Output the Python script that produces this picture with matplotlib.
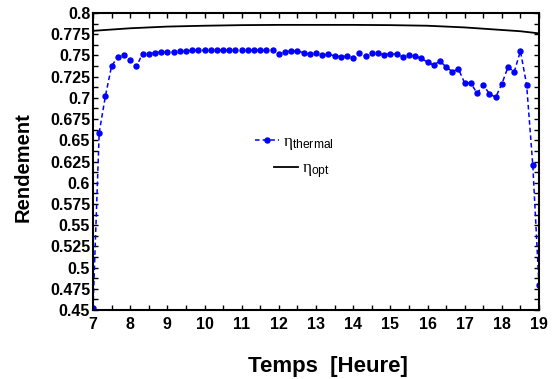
# ============================================
# Rendement thermique / optique sur une journee
# ============================================

import numpy as np
import matplotlib
matplotlib.use("Agg")
import matplotlib.pyplot as plt
from matplotlib.ticker import MultipleLocator, FuncFormatter

# --------------------------------------------
# Data
# --------------------------------------------
# one sample every 10 minutes from 7h to 19h
temps = np.arange(7 * 60, 19 * 60 + 1, 10) / 60.0

eta_thermal = [
    0.452, 0.659, 0.702, 0.7375, 0.748, 0.750,      # 7h
    0.745, 0.737, 0.752, 0.752, 0.753, 0.754,       # 8h
    0.754, 0.754, 0.755, 0.755, 0.756, 0.756,       # 9h
    0.756, 0.756, 0.756, 0.756, 0.756, 0.756,       # 10h
    0.7565, 0.756, 0.756, 0.756, 0.756, 0.7565,     # 11h
    0.7517, 0.7544, 0.755, 0.755, 0.7533, 0.7513,   # 12h
    0.7533, 0.7501, 0.7517, 0.7493, 0.7486, 0.749,  # 13h
    0.7466, 0.753, 0.749, 0.7525, 0.7525, 0.751,    # 14h
    0.752, 0.7515, 0.7485, 0.750, 0.749, 0.7466,    # 15h
    0.742, 0.7387, 0.7434, 0.7364, 0.7309, 0.734,   # 16h
    0.7175, 0.7175, 0.7054, 0.7148, 0.705, 0.7006,  # 17h
    0.7163, 0.7364, 0.7305, 0.7552, 0.7155, 0.6205, # 18h
    0.4795,                                         # 19h
]

temps_opt = [7, 7.5, 8, 8.5, 9, 10, 11, 12, 13, 14, 15, 16, 16.5, 17, 17.5, 18, 18.5, 19]
eta_opt = [0.779, 0.7805, 0.782, 0.783, 0.784, 0.785, 0.7857, 0.786, 0.786,
           0.786, 0.7857, 0.785, 0.784, 0.783, 0.7815, 0.780, 0.7785, 0.776]

x_ticks = [7, 8, 9, 10, 11, 12, 13, 14, 15, 16, 17, 18, 19]

# --------------------------------------------
# Style
# --------------------------------------------
plt.rcParams['font.family'] = ['Liberation Sans', 'DejaVu Sans']
plt.rcParams['mathtext.fontset'] = 'custom'
plt.rcParams['mathtext.rm'] = 'Liberation Sans'
plt.rcParams['mathtext.it'] = 'Liberation Serif'


def plot_rendement():
    fig = plt.figure(figsize=(5.58, 3.79), dpi=100)
    ax = fig.add_axes([93 / 558, 1 - 310 / 379, 446 / 558, 297 / 379])

    l1, = ax.plot(temps, eta_thermal, '--', color='#0000ff', lw=1.1,
                  marker='o', markersize=3.6, dashes=(3, 2))
    l2, = ax.plot(temps_opt, eta_opt, '-', color='black', lw=1.3)

    ax.set_xlim(7, 19)
    ax.set_ylim(0.45, 0.8)
    ax.set_xticks(x_ticks)
    ax.xaxis.set_minor_locator(MultipleLocator(0.5))
    ax.yaxis.set_major_locator(MultipleLocator(0.025))
    ax.yaxis.set_minor_locator(MultipleLocator(0.0125))
    ax.yaxis.set_major_formatter(FuncFormatter(lambda v, p: '{:g}'.format(round(v, 4))))

    ax.tick_params(which='both', direction='in', top=True, right=True,
                   length=3.5, width=1)
    ax.tick_params(axis='x', which='major', pad=5, labelsize=11.5)
    ax.tick_params(axis='y', which='major', pad=2, labelsize=11.5)
    for lab in ax.get_xticklabels() + ax.get_yticklabels():
        lab.set_fontweight('bold')

    for sp in ax.spines.values():
        sp.set_linewidth(1.5)

    ax.set_xlabel('Temps  [Heure]', fontsize=16, fontweight='bold', va='top')
    ax.xaxis.set_label_coords(0.527, -0.155)
    ax.set_ylabel('Rendement', fontsize=14.5, fontweight='bold', va='center')
    ax.yaxis.set_label_coords(-0.156, 0.48)

    # two separate legend entries, like the original
    leg1 = ax.legend([l1], [r'$\eta_{\mathrm{thermal}}$'], loc='center left',
                     bbox_to_anchor=(0.363, 0.563), frameon=False, fontsize=12.5,
                     handlelength=1.4, handletextpad=0.2, borderpad=0,
                     borderaxespad=0, numpoints=1)
    ax.add_artist(leg1)
    ax.legend([l2], [r'$\eta_{\mathrm{opt}}$'], loc='center left',
              bbox_to_anchor=(0.406, 0.468), frameon=False, fontsize=12.5,
              handlelength=1.4, handletextpad=0.2, borderpad=0,
              borderaxespad=0)

    fig.savefig('out.png', dpi=100)


if __name__ == "__main__":
    plot_rendement()
